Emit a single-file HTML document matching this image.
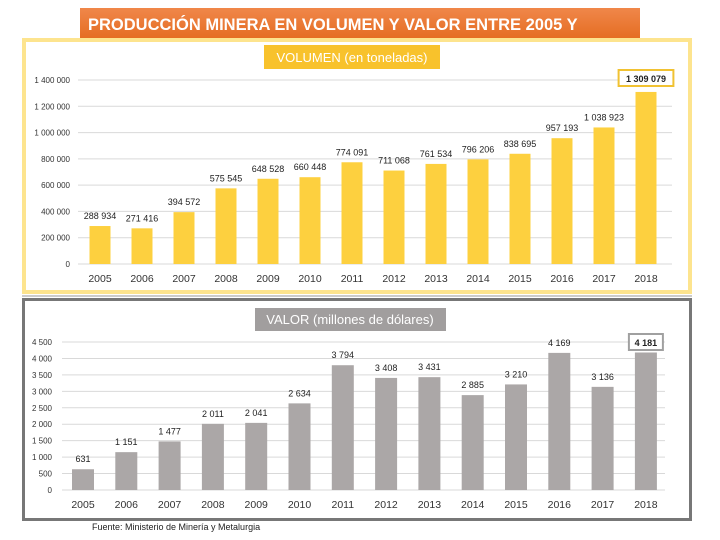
<!DOCTYPE html>
<html><head><meta charset="utf-8">
<style>
body{margin:0;width:720px;height:540px;background:#fff;overflow:hidden;font-family:"Liberation Sans",sans-serif}
svg{position:absolute;left:0;top:0}
</style></head><body>
<svg id="s" width="720" height="540">
<defs><linearGradient id="og" x1="0" y1="0" x2="0" y2="1"><stop offset="0" stop-color="#f0874a"/><stop offset="1" stop-color="#e46b1f"/></linearGradient></defs>
<rect x="80" y="8" width="560" height="33" fill="url(#og)"/>
<text x="88" y="30" fill="#fff" font-size="16.5" font-weight="bold">PRODUCCIÓN MINERA EN VOLUMEN Y VALOR ENTRE 2005 Y</text>
<text x="88" y="48" fill="#fff" font-size="14" font-weight="bold">2018</text>
<rect x="24" y="40" width="666" height="252" fill="#fff" stroke="#fde48e" stroke-width="4"/>
<rect x="264" y="45" width="176" height="24" fill="#f8c22c"/>
<text x="352" y="62" fill="#fff" font-size="13" text-anchor="middle">VOLUMEN (en toneladas)</text>
<line x1="22" y1="296" x2="692" y2="296" stroke="#999" stroke-width="1"/>
<rect x="23.5" y="299.5" width="667" height="220" fill="#fff" stroke="#777" stroke-width="3"/>
<rect x="255" y="308" width="191" height="23" fill="#a19e9e"/>
<text x="350" y="324" fill="#fff" font-size="13" text-anchor="middle">VALOR (millones de dólares)</text>
<text x="92" y="530" fill="#222" font-size="9">Fuente: Ministerio de Minería y Metalurgia</text>
<g id="top"></g><g id="bot"></g>
</svg>
<script>
const years=["2005","2006","2007","2008","2009","2010","2011","2012","2013","2014","2015","2016","2017","2018"];
const volume=[288934,271416,394572,575545,648528,660448,774091,711068,761534,796206,838695,957193,1038923,1309079];
const value=[631,1151,1477,2011,2041,2634,3794,3408,3431,2885,3210,4169,3136,4181];
const volTicks=[0,200000,400000,600000,800000,1000000,1200000,1400000];
const valTicks=[0,500,1000,1500,2000,2500,3000,3500,4000,4500];
const NS="http://www.w3.org/2000/svg";
function fmt(v){return String(v).replace(/\B(?=(\d{3})+(?!\d))/g," ");}
function mk(g,t,a){const e=document.createElementNS(NS,t);for(const k in a)e.setAttribute(k,a[k]);g.appendChild(e);return e;}
function chart(gid,data,ticks,o){
 const g=document.getElementById(gid);
 const y=v=>o.y0-(v/o.max)*(o.y0-o.yTop);
 const x=i=>o.x0+i*o.step;
 ticks.forEach(t=>{
  const l=mk(g,'line',{x1:o.gx1,x2:o.gx2,y1:y(t),y2:y(t),stroke:'#d9d9d9','stroke-width':1});
  
  
  const tx=mk(g,'text',{x:o.lx,y:y(t)+3,'font-size':8,'text-anchor':'end',fill:'#333'});
  tx.textContent=fmt(t);
  
  
 });
 data.forEach((v,i)=>{
  const r=mk(g,'rect',{x:x(i)-o.bw/2,y:y(v),width:o.bw,height:o.y0-y(v),fill:o.color});
  
  
  const last=i===data.length-1;
  const s=fmt(v);
  if(last){
   const w=s.length*5.2+8;
   const b=mk(g,'rect',{x:x(i)-w/2,y:o.boxY,width:w,height:16,fill:'#fff',stroke:o.boxC,'stroke-width':2});
   
   
  }
  const t=mk(g,'text',{x:x(i),y:last?o.boxY+12:y(v)-7,'font-size':9,'text-anchor':'middle',fill:'#222','font-weight':last?'bold':'normal'});
  t.textContent=s;
  
  
  const yl=mk(g,'text',{x:x(i),y:o.y0+18,'font-size':10.5,'text-anchor':'middle',fill:'#333'});
  yl.textContent=years[i];
  
  
 });
}
chart('top',volume,volTicks,{y0:264,yTop:80,max:1400000,x0:100,step:42,bw:21,gx1:78,gx2:672,lx:70,color:'#fdd03f',boxY:70,boxC:'#f1c232'});
chart('bot',value,valTicks,{y0:490,yTop:342,max:4500,x0:83,step:43.3,bw:22,gx1:62,gx2:665,lx:52,color:'#aba7a7',boxY:334,boxC:'#a0a0a0'});
</script>
</body></html>
